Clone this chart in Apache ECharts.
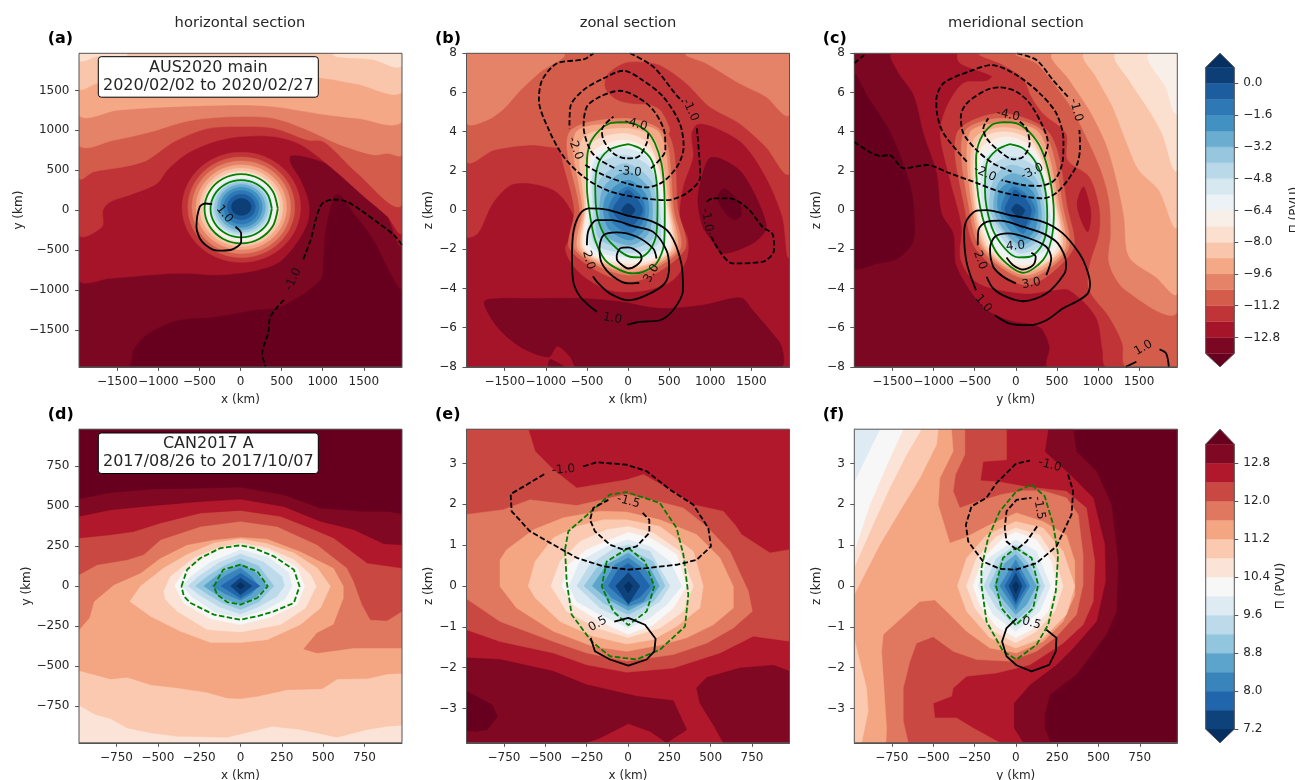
<!DOCTYPE html>
<html><head><meta charset="utf-8">
<script src="https://cdn.jsdelivr.net/npm/echarts@6/dist/echarts.min.js"></script>
<style>html,body{margin:0;padding:0;background:#fff}#c{width:1295px;height:780px}</style></head>
<body><div id="c"></div>
<script>
// ---------- colour levels ----------
const topLevels=['#67001f','#7c0722','#a61429','#c03438','#d45c4b','#e58368','#f4a886','#f9c6ac','#fce0cf','#f9efe9','#ecf2f5','#d7e8f1','#b9d9e9','#96c7df','#6bacd1','#4191c2','#2e78b5','#1c5da0','#0d3f76','#053061'];
const botLevels=['#67001f','#800823','#b2182b','#ca4842','#e0775f','#f4a582','#fac9b0','#fbe4d7','#f7f7f7','#deebf2','#bcdaea','#92c5de','#5da4cc','#3884bb','#2166ac','#0e427a','#053061'];
const topEdges=[-13.6,-12.8,-12,-11.2,-10.4,-9.6,-8.8,-8,-7.2,-6.4,-5.6,-4.8,-4,-3.2,-2.4,-1.6,-0.8,0,0.8];
const botEdges=[7.2,7.6,8,8.4,8.8,9.2,9.6,10,10.4,10.8,11.2,11.6,12,12.4,12.8,13.2];
const topTicks=[-12.8,-11.2,-9.6,-8,-6.4,-4.8,-3.2,-1.6,0];
const botTicks=[7.2,8,8.8,9.6,10.4,11.2,12,12.8];
const kmTicksWide=[-1500,-1000,-500,0,500,1000,1500];
const kmTicksNarrow=[-750,-500,-250,0,250,500,750];
const zTicksTop=[-8,-6,-4,-2,0,2,4,6,8];
const zTicksBot=[-3,-2,-1,0,1,2,3];

// ---------- panel (a) ----------
const aBands=[
[0,[[-1965,-1965],[1965,-1965],[1965,1965],[-1965,1965]]],
[1,[[-1965,-1965],[-1360,-1965],[-1300,-1750],[-1140,-1560],[-770,-1385],[-285,-1335],[200,-1250],[490,-1210],[970,-875],[1010,-590],[1030,-290],[1135,170],[1215,190],[1380,-40],[1540,-250],[1665,-460],[1825,-790],[1965,-980],[1965,1965],[-1965,1965]]],
[2,[[-1965,-875],[-1583,-855],[-1096,-813],[-690,-792],[-284,-813],[122,-771],[447,-667],[650,-459],[812,-167],[832,83],[731,375],[609,584],[609,680],[812,663],[1137,546],[1421,359],[1746,25],[1965,-433],[1965,1965],[-1965,1965]]],
[3,[[-1965,-313],[-1685,-208],[-1673,0],[-1583,104],[-1299,208],[-1015,334],[-893,500],[-650,709],[-325,855],[0,921],[406,921],[731,821],[1137,505],[1502,171],[1787,-79],[1965,-288],[1965,1965],[-1965,1965]]],
[4,[[-1965,396],[-1786,480],[-1421,542],[-1137,625],[-812,855],[-406,1022],[0,1047],[406,1026],[812,880],[1015,855],[1421,463],[1965,67],[1965,1965],[-1965,1965]]],
[5,[[-1965,813],[-1543,876],[-1096,980],[-690,1105],[-406,1150],[0,1172],[406,1151],[812,1005],[1218,817],[1624,692],[1787,713],[1965,692],[1965,1965],[-1965,1965]]],
[6,[[-1965,1188],[-1502,1251],[-893,1293],[0,1318],[406,1297],[974,1205],[1421,1151],[1965,1109],[1965,1965],[-1965,1965]]],
[7,[[-1965,1522],[-1750,1585],[-1299,1647],[0,1689],[954,1660],[1421,1580],[1965,1480],[1965,1965],[-1965,1965]]],
[8,[[-1965,1877],[-1750,1925],[-1380,1965],[-1965,1965]]],
[8,[[1137,1965],[1624,1885],[1965,1805],[1965,1965]]]
];
const aRings=[[3,10,35,720,690],[4,10,35,650,630],[5,10,35,600,580],[6,10,35,550,530],[7,10,35,505,490],[8,10,35,465,450],[9,10,35,440,425],[10,10,35,400,385],[11,10,35,378,365],[12,10,35,353,342],[13,10,35,325,315],[14,10,35,292,285],[15,10,35,255,250],[16,10,35,215,210],[17,10,40,170,160],[18,10,40,120,105]];
const aGreenOuter=[[454,17],[394,233],[231,392],[8,450],[-215,392],[-378,233],[-438,17],[-378,-200],[-215,-358],[8,-416],[231,-358],[394,-200],[454,17]];
const aGreenInner=[[381,17],[331,196],[195,327],[8,375],[-179,327],[-315,196],[-365,17],[-315,-162],[-179,-293],[8,-341],[195,-293],[331,-162],[381,17]];
const aPos1=[[-345,75],[-426,83],[-495,42],[-536,-208],[-467,-396],[-284,-509],[-122,-500],[8,-396],[8,-292],[-61,-208]];
const aNeg1a=[[1965,-438],[1868,-313],[1685,-167],[1462,0],[1299,104],[1137,133],[995,83],[914,-125],[853,-375],[751,-646]];
const aNeg1b=[[528,-1126],[365,-1334],[337,-1543],[264,-1793],[305,-1965]];
const aLabels=[[-195,-50,'1.0',-50],[641,-867,'-1.0',65]];

// ---------- panel (b) ----------
const bBands=[
[2,[[-1965,-8],[1965,-8],[1965,8],[-1965,8]]],
[1,[[-1749,-4.68],[-1548,-4.51],[-1225,-4.51],[-580,-4.51],[-97,-4.68],[387,-5.02],[911,-4.85],[1374,-4.48],[1515,-5.11],[1757,-6.3],[1870,-6.98],[1858,-8],[-621,-8],[-701,-7.49],[-862,-6.94],[-963,-7.49],[-1306,-6.98],[-1588,-5.96]]],
[1,[[-951,-7.63],[-842,-7.83],[-782,-8],[-963,-8]]],
[1,[[991,2.64],[1112,2.64],[1354,2.04],[1515,1.02],[1656,-.34],[1676,-1.02],[1515,-1.7],[1153,-2.21],[1032,-1.62],[911,-.85],[850,.51],[911,1.87]]],
[0,[[1173,1.1],[1354,.34],[1374,-.26],[1294,-.48],[1193,-.17],[1092,.6]]],
[3,[[-1965,-1.33],[-1830,-1.19],[-1648,.34],[-1427,1.28],[-1185,1.36],[-903,1.02],[-742,.34],[-621,-.85],[-762,-1.96],[-621,-3.06],[-339,-3.91],[-97,-4.17],[226,-4.09],[548,-3.57],[709,-2.55],[729,-1.53],[629,-.34],[669,1.19],[790,2.72],[770,3.91],[850,4.39],[1032,4.26],[1394,3.4],[1676,1.7],[1878,-.34],[1965,-2.38],[1965,8],[-1965,8]]],
[4,[[-1965,2.47],[-1628,3.06],[-1185,3.32],[-782,3.23],[-701,3.91],[488,3.91],[407,5.02],[266,5.36],[64,5.41],[-137,5.62],[-278,6.21],[-258,6.89],[-56,7.49],[145,7.57],[387,7.4],[709,6.47],[991,5.28],[1354,4.43],[1676,3.23],[1965,1.87],[1965,8],[-1965,8]]],
[5,[[-1965,4.43],[-1709,4.6],[-1507,5.19],[-1306,6.13],[-1064,7.06],[-782,8],[-1965,8]]],
[5,[[709,8],[951,7.49],[1354,6.47],[1676,5.79],[1965,4.85],[1965,8]]],
[4,[[-97,4.94],[488,3.91],[609,0],[689,-2.04],[24,-3.66],[-701,-2.04],[-653,0],[-802,3.91]]],
[5,[[-56,4.68],[427,3.91],[556,0],[629,-2.04],[24,-3.32],[-641,-2.04],[-588,0],[-721,3.91]]],
[6,[[-56,4.39],[387,3.91],[528,0],[588,-2.04],[24,-3.15],[-600,-2.04],[-552,0],[-641,3.91]]],
[7,[[-56,4.17],[326,3.6],[508,0],[548,-2.04],[24,-2.98],[-560,-2.04],[-528,0],[-560,3.6]]],
[8,[[-56,3.91],[266,3.3],[488,0],[516,-2.04],[24,-2.89],[-532,-2.04],[-512,0],[-459,3.3]]],
[9,[[-56,3.57],[286,2.89],[467,0],[488,-2.04],[24,-2.72],[-508,-2.04],[-500,0],[-439,2.89]]],
[10,[[-56,3.32],[266,2.7],[447,0],[447,-2.04],[24,-2.52],[-480,-2.04],[-480,0],[-419,2.7]]],
[11,[[-56,3.15],[240,2.6],[420,0],[415,-1.9],[24,-2.38],[-445,-1.9],[-460,0],[-400,2.6]]],
[12,[[-56,2.81],[280,2.1],[385,0],[370,-1.7],[24,-2.18],[-410,-1.7],[-425,0],[-400,2.1]]],
[13,[[-36,2.38],[280,1.5],[345,0],[300,-1.45],[24,-1.96],[-350,-1.45],[-390,0],[-350,1.5]]],
[14,[[-16,1.96],[240,1.2],[300,0],[240,-1.25],[24,-1.79],[-290,-1.25],[-345,0],[-290,1.2]]],
[15,[[0,1.53],[210,.85],[255,0],[195,-1],[24,-1.53],[-225,-1],[-300,0],[-245,.85]]],
[16,[[0,1.19],[160,.7],[206,0],[165,-.7],[24,-1.19],[-177,-.7],[-238,0],[-170,.7]]],
[17,[[0,1.02],[120,.5],[177,0],[120,-.5],[24,-.85],[-110,-.5],[-185,0],[-120,.5]]],
[18,[[4,.34],[85,0],[4,-.34],[-77,0]]]
];
const bGreenOuter=[[-97,4.49],[64,4.43],[226,4.03],[326,3.43],[407,2.38],[439,1.19],[447,-.34],[439,-1.7],[346,-2.72],[185,-3.15],[64,-3.23],[-97,-3.06],[-278,-2.55],[-399,-1.53],[-459,-.34],[-500,1.19],[-500,2.38],[-459,3.43],[-339,4.11],[-218,4.43],[-97,4.49]];
const bGreenInner=[[4,3.37],[145,3.15],[286,2.55],[346,1.53],[359,.17],[346,-1.19],[266,-2.04],[145,-2.41],[24,-2.38],[-137,-1.96],[-298,-1.19],[-379,-.17],[-399,1.19],[-359,2.38],[-238,3.06],[-97,3.28],[4,3.37]];
const bPos1=[[-379,-5.19],[-580,-4.43],[-669,-3.57],[-681,-2.38],[-661,-1.02],[-580,-.17],[-480,.09],[-258,.03],[24,-.31],[306,-.6],[508,-1.19],[649,-2.72],[669,-4.09],[548,-5.11],[387,-5.62],[145,-5.7],[-8,-5.84]];
const bPos2=[[-500,-1.79],[-480,-1.02],[-379,-.51],[-198,-.51],[64,-.82],[306,-1.11],[467,-2.04],[500,-2.89],[447,-3.74],[226,-4.34],[4,-4.6],[-218,-4.26],[-359,-3.74],[-427,-3.37]];
const bPos3=[[347,-2.47],[306,-1.96],[105,-1.36],[-137,-1.14],[-298,-1.28],[-347,-1.96],[-318,-2.72],[-177,-3.4],[4,-3.74],[137,-3.71]];
const bPos4=[[-137,-2.3],[-97,-1.96],[4,-1.9],[145,-2.21],[165,-2.47],[105,-2.81],[4,-2.98],[-97,-2.72],[-137,-2.47],[-137,-2.3]];
const bNeg1a=[[24,8],[306,7.32],[588,5.87],[669,5.53]];
const bNeg1b=[[838,4.17],[879,1.7],[709,.85],[467,.51],[64,.68],[-258,1.02],[-540,1.7],[-782,2.72],[-963,4.09],[-1084,5.62],[-1044,6.64],[-862,7.49],[-540,7.69],[-419,8]];
const bNeg2=[[-520,2.3],[-298,1.79],[-16,1.36],[226,1.16],[427,1.45],[609,2.3],[677,3.23],[629,4.43],[427,5.79],[145,6.72],[-56,7.11],[-298,6.72],[-540,6.13],[-701,5.28],[-713,4.17]];
const bNeg3=[[278,2.13],[455,3.06],[447,3.91],[306,5.11],[105,5.79],[-97,6.09],[-339,5.79],[-500,5.28],[-540,4.26],[-459,3.06],[-339,2.55],[-157,2.13]];
const bNeg4=[[246,3.91],[226,3.4],[125,2.72],[-16,2.64],[-177,2.89],[-298,3.57],[-318,4.09],[-177,4.77]];
const bNegR=[[959,.43],[1032,.6],[1233,.6],[1455,.09],[1636,-.85],[1765,-1.28],[1777,-2.04],[1636,-2.64],[1274,-2.72],[1133,-2.21],[991,-1.19]];
const bLabels=[[97,4.39,'-4.0',-15],[24,1.96,'-3.0',-5],[-641,3.15,'-2.0',-70],[758,5.11,'-1.0',-65],[959,-.51,'-1.0',-80],[-189,-5.53,'1.0',-10],[-480,-2.55,'2.0',-75],[286,-3.23,'3.0',60]];

// ---------- panel (c) ----------
const cBands=[
[1,[[-1965,-8],[1965,-8],[1965,8],[-1965,8]]],
[0,[[-1965,6.89],[-1805,5.79],[-1523,3.91],[-1282,1.19],[-1233,-.68],[-1261,-1.7],[-1443,-2.47],[-1685,-2.72],[-1965,-2.89]]],
[2,[[-1503,8],[-1435,7.06],[-1241,5.87],[-1120,3.91],[-959,1.87],[-899,-.17],[-758,-1.19],[-717,-2.89],[-395,-4.94],[-73,-5.62],[290,-5.96],[411,-6.98],[391,-8],[1965,-8],[1965,8]]],
[3,[[-697,8],[-677,7.49],[-294,6.84],[-355,6.59],[-637,6.47],[-838,5.28],[-919,3.91],[-798,1.53],[-657,-.85],[-677,-2.38],[-556,-3.4],[-355,-3.91],[129,-4.26],[451,-4.09],[653,-4.09],[975,-5.45],[1056,-7.15],[1096,-8],[1965,-8],[1965,8]]],
[2,[[822,1.19],[895,.34],[915,-.34],[875,-1.11],[794,-.51],[746,.34]]],
[4,[[-435,8],[-193,7.49],[89,6.72],[189,5.79],[330,4.94],[613,3.91],[633,2.55],[895,1.7],[1016,.17],[1016,-1.19],[895,-2.89],[895,-4.09],[1136,-5.45],[1298,-6.81],[1338,-8],[1965,-8],[1965,8]]],
[5,[[8,8],[250,7.49],[492,6.3],[693,5.11],[895,3.4],[1036,2.04],[1136,.51],[1157,-1.19],[1136,-2.72],[1338,-4.09],[1965,-5.19],[1965,8]]],
[6,[[451,8],[653,6.64],[895,5.11],[1096,3.4],[1217,1.7],[1318,-.34],[1378,-2.38],[1701,-3.4],[1965,-4.26],[1965,8]]],
[7,[[834,8],[975,6.81],[1177,5.28],[1338,3.57],[1499,2.04],[1741,1.02],[1965,-.85],[1965,8]]],
[8,[[1217,8],[1378,6.64],[1620,5.11],[1781,3.91],[1965,2.04],[1965,8]]],
[9,[[1620,8],[1822,6.3],[1965,4.94],[1965,8]]],
[4,[[-193,4.94],[411,3.91],[633,0],[693,-2.04],[129,-3.83],[-476,-2.04],[-617,0],[-717,3.91]]],
[5,[[-173,4.68],[351,3.91],[580,0],[633,-2.04],[129,-3.49],[-415,-2.04],[-564,0],[-637,3.91]]],
[6,[[-161,4.43],[290,3.91],[540,0],[592,-2.04],[121,-3.32],[-375,-2.04],[-524,0],[-564,3.91]]],
[7,[[-153,4.22],[270,3.57],[512,0],[552,-2.04],[109,-3.15],[-347,-2.04],[-496,0],[-516,3.57]]],
[8,[[-145,4],[218,3.4],[492,0],[524,-2.04],[109,-3.03],[-314,-2.04],[-476,0],[-476,3.4]]],
[9,[[-113,3.74],[230,3.06],[471,0],[484,-2.04],[89,-2.81],[-274,-2.04],[-455,0],[-435,3.06]]],
[10,[[-93,3.49],[250,2.72],[443,0],[443,-2.04],[89,-2.64],[-214,-2.04],[-427,0],[-415,2.72]]],
[11,[[-73,3.23],[250,2.55],[411,0],[391,-1.87],[89,-2.47],[-153,-1.87],[-395,0],[-387,2.55]]],
[12,[[-52,2.72],[270,2.04],[379,0],[351,-1.62],[69,-2.21],[-133,-1.62],[-355,0],[-334,2.04]]],
[13,[[-52,2.3],[230,1.7],[351,0],[310,-1.36],[69,-2.01],[-113,-1.36],[-314,0],[-254,1.7]]],
[14,[[-32,1.87],[210,1.36],[310,0],[270,-1.19],[69,-1.79],[-113,-1.19],[-266,0],[-214,1.36]]],
[15,[[-32,1.45],[189,1.02],[270,0],[230,-1.02],[89,-1.53],[-73,-1.02],[-214,0],[-193,1.02]]],
[16,[[-24,1.19],[150,.7],[238,0],[170,-.7],[89,-1.19],[-20,-.8],[-173,0],[-130,.7]]],
[17,[[-12,1.02],[130,.5],[189,0],[150,-.55],[89,-.94],[-30,-.55],[-133,0],[-90,.5]]],
[18,[[8,.31],[109,0],[48,-.34],[-52,0]]]
];
const cGreenOuter=[[-153,4.49],[8,4.43],[169,3.96],[310,3.11],[411,1.7],[463,-.17],[431,-1.53],[330,-2.55],[89,-3.2],[-113,-2.72],[-274,-1.87],[-435,.17],[-484,2.55],[-435,3.57],[-294,4.34],[-153,4.49]];
const cGreenInner=[[-73,3.37],[89,3.15],[250,2.38],[351,1.19],[383,-.34],[330,-1.7],[169,-2.38],[28,-2.41],[-133,-1.96],[-294,-.85],[-375,1.02],[-355,2.38],[-234,3.06],[-73,3.37]];
const cPos1=[[-484,-4.09],[-596,-2.72],[-629,-1.19],[-596,-.51],[-476,-.03],[-355,0],[-73,-.26],[330,-.6],[572,-1.19],[774,-2.21],[854,-2.89],[903,-3.74],[874,-4.26],[733,-4.68],[572,-5.02],[371,-5.62],[169,-5.87],[-73,-5.79],[-254,-5.36]];
const cPos2=[[-463,-1.79],[-455,-1.02],[-355,-.6],[-193,-.54],[89,-.85],[330,-1.19],[512,-1.7],[613,-2.72],[592,-3.23],[371,-4.26],[89,-4.65],[-113,-4.43],[-274,-4],[-355,-3.4]];
const cPos3=[[0,-3.74],[-153,-3.4],[-274,-2.89],[-314,-1.96],[-254,-1.36],[-93,-1.19],[169,-1.45],[371,-1.87],[431,-2.47],[371,-3.32]];
const cPos4=[[-113,-2.42],[-32,-2.81],[89,-3.03],[210,-2.81],[242,-2.38],[189,-2.18]];
const cPosCornerA=[[1338,-8],[1467,-7.74]];
const cPosCornerB=[[1749,-7.11],[1830,-7.32],[1862,-8]];
const cNeg1a=[[-1965,3.49],[-1644,2.76],[-1543,2.81],[-1362,2.13],[-1080,2.3],[-798,1.87],[-516,1.45],[-193,.94],[129,.68],[330,.6],[512,.94],[733,2.21],[782,3.23],[774,4.09]];
const cNeg1b=[[633,5.79],[451,6.64],[250,7.66],[8,8]];
const cNegCorner=[[-1965,7.49],[-1846,7.91]];
const cNeg2=[[-596,2.47],[-879,3.91],[-959,4.94],[-967,5.62],[-879,6.47],[-516,7.15],[-294,7.4],[8,6.89],[290,5.96],[492,4.94],[580,3.57],[572,2.55],[471,1.53],[290,1.24],[89,1.28],[-173,1.53]];
const cNeg3=[[351,2.72],[391,3.4],[330,4.26],[169,5.45],[8,6.04],[-193,6.26],[-355,6.13],[-596,5.45],[-669,4.77],[-637,3.91],[-476,3.06],[-274,2.38],[-52,1.96]];
const cNeg4=[[48,4.51],[129,4.17],[169,3.4],[89,2.72],[-32,2.59],[-193,2.98],[-355,3.66],[-395,4.17],[-334,4.68]];
const cLabels=[[-93,4.85,'-4.0',-12],[201,1.96,'-3.0',25],[-375,1.87,'-2.0',-25],[733,5.11,'-1.0',-75],[-4,-1.84,'4.0',5],[189,-3.74,'3.0',10],[-435,-2.55,'2.0',-70],[-395,-4.77,'1.0',-50],[1552,-7.03,'1.0',30]];

// ---------- panel (d) ----------
const dBands=[
[7,[[-977,-979],[977,-979],[977,979],[-977,979]]],
[6,[[-977,-745],[-877,-803],[-786,-828],[-685,-886],[-544,-917],[-383,-938],[-81,-944],[0,-924],[192,-876],[363,-896],[585,-944],[766,-896],[887,-876],[977,-869],[977,979],[-977,979]]],
[5,[[-977,-528],[-786,-580],[-685,-570],[-544,-616],[-383,-636],[-202,-664],[-81,-699],[0,-703],[101,-689],[282,-647],[494,-641],[585,-580],[766,-578],[887,-549],[977,-545],[977,979],[-977,979]]],
[4,[[-977,-273],[-915,-200],[-887,-96],[-766,8],[-605,81],[-484,175],[-323,258],[-161,289],[0,306],[161,295],[363,216],[564,112],[625,-2],[625,-75],[564,-241],[464,-293],[383,-393],[464,-418],[685,-387],[977,-387],[977,979],[-977,979]]],
[3,[[-977,71],[-867,133],[-685,164],[-585,196],[-484,289],[-242,372],[0,404],[222,372],[464,258],[645,112],[685,29],[736,-116],[786,-210],[887,-216],[977,-158],[977,979],[-977,979]]],
[2,[[-977,300],[-786,320],[-645,341],[-484,393],[-242,456],[0,472],[242,435],[423,362],[564,300],[766,144],[977,112],[977,979],[-977,979]]],
[1,[[-977,435],[-786,476],[-585,497],[-242,528],[0,543],[262,497],[484,404],[685,352],[867,264],[977,258],[977,979],[-977,979]]],
[0,[[-977,545],[-786,584],[-544,605],[-242,612],[0,618],[262,570],[484,487],[746,466],[887,466],[977,451],[977,979],[-977,979]]],
[6,[[-669,-96],[-605,-2],[-464,112],[-323,196],[-161,268],[0,293],[161,264],[323,206],[464,112],[544,-2],[484,-137],[363,-241],[161,-335],[0,-352],[-181,-352],[-363,-283],[-544,-189]]],
[7,[[-464,-33],[-423,60],[-282,175],[-141,237],[0,268],[161,237],[323,164],[423,71],[458,-2],[393,-137],[242,-241],[0,-287],[-202,-272],[-383,-158],[-454,-85]]],
[8,[[-397,2],[-343,91],[-161,216],[0,254],[181,216],[343,112],[387,-2],[343,-116],[181,-195],[0,-241],[-181,-204],[-343,-106]]],
[9,[[-353,0],[-300,60],[-180,150],[0,227],[170,180],[290,85],[312,0],[270,-80],[150,-150],[0,-195],[-150,-165],[-290,-70]]],
[10,[[-316,0],[-260,55],[-130,145],[0,200],[140,150],[250,60],[266,0],[220,-65],[110,-130],[0,-175],[-130,-130],[-250,-55]]],
[11,[[-272,0],[-200,60],[-100,125],[0,170],[110,125],[202,0],[110,-100],[0,-147],[-110,-105],[-200,-50]]],
[12,[[-222,0],[-130,75],[0,139],[90,85],[161,0],[90,-70],[0,-116],[-120,-70]]],
[13,[[-175,0],[-90,65],[0,112],[65,60],[111,0],[65,-50],[0,-89],[-90,-50]]],
[14,[[-118,0],[0,80],[118,0],[0,-75]]],
[15,[[-60,0],[0,50],[70,0],[0,-55]]],
[16,[[-24,0],[0,22],[26,0],[0,-19]]]
];
const dGreenOuter=[[-357,-2],[-323,102],[-242,175],[-121,237],[0,254],[81,237],[202,185],[323,102],[357,-2],[323,-106],[202,-158],[101,-189],[0,-210],[-161,-179],[-302,-106],[-343,-64],[-357,-2]];
const dGreenInner=[[-161,-2],[-105,102],[0,133],[101,91],[165,-2],[101,-75],[0,-116],[-81,-100],[-141,-54],[-161,-2]];

// ---------- panel (e) ----------
const eBands=[
[2,[[-977,-3.84],[977,-3.84],[977,3.84],[-977,3.84]]],
[1,[[-977,-1.76],[-774,-1.8],[-452,-2.09],[-250,-2.42],[52,-2.7],[274,-2.81],[355,-3.52],[234,-3.84],[133,-3.56],[2,-3.37],[-169,-3.72],[-250,-3.84],[-977,-3.84]]],
[1,[[415,-2.5],[476,-2.24],[677,-2.01],[879,-1.94],[977,-2.09],[977,-3.84],[577,-3.84],[516,-3.4],[435,-2.87]]],
[0,[[-977,-2.58],[-823,-2.91],[-789,-3.19],[-853,-3.52],[-915,-3.56],[-977,-3.54]]],
[3,[[-603,3.84],[-562,3.3],[-451,2.85],[-310,2.4],[-8,2.6],[93,2.73],[274,2.32],[395,1.99],[576,1.83],[647,1.5],[687,1.26],[859,.81],[977,.89],[977,-1.35],[758,-1.23],[556,-1.64],[274,-2.01],[-8,-2.11],[-250,-1.93],[-452,-1.64],[-774,-1.36],[-977,-1.07],[-977,3.84]]],
[4,[[-977,1.75],[-754,1.87],[-593,2.11],[-310,1.97],[-8,2.25],[193,2.06],[335,1.91],[476,1.46],[617,.85],[728,-.13],[752,-.62],[637,-1.03],[476,-1.4],[274,-1.68],[-8,-1.84],[-250,-1.64],[-452,-1.36],[-774,-.87],[-977,-.31]]],
[5,[[-774,.64],[-734,.89],[-572,1.38],[-391,1.67],[-169,1.83],[-8,1.81],[193,1.62],[415,1.26],[556,.69],[637,-.01],[637,-.54],[516,-.95],[355,-1.27],[193,-1.45],[-8,-1.6],[-210,-1.48],[-452,-1.11],[-674,-.54],[-774,-.01]]],
[6,[[-603,0],[-562,.6],[-451,1.18],[-310,1.46],[-149,1.62],[-8,1.62],[193,1.46],[395,.85],[455,0],[435,-.54],[294,-.99],[153,-1.31],[-8,-1.42],[-210,-1.23],[-411,-.87],[-562,-.29]]],
[7,[[-466,0],[-411,.6],[-290,1.09],[-129,1.38],[2,1.46],[153,1.3],[314,.85],[395,0],[335,-.62],[193,-1.03],[2,-1.26],[-189,-1.03],[-371,-.62]]],
[8,[[-401,0],[-361,.52],[-250,.89],[-109,1.13],[2,1.31],[133,1.18],[294,.77],[355,0],[274,-.54],[153,-.95],[2,-1.18],[-169,-.87],[-331,-.46]]],
[9,[[-357,0],[-290,.6],[-129,.97],[2,1.13],[133,.97],[254,.6],[325,0],[234,-.46],[133,-.78],[2,-1.03],[-169,-.7],[-310,-.38]]],
[10,[[-310,0],[-230,.52],[-89,.91],[2,1.01],[133,.85],[254,0],[193,-.38],[2,-.87],[-169,-.54]]],
[11,[[-266,0],[-189,.44],[2,.89],[153,.6],[224,0],[153,-.38],[2,-.7],[-149,-.42]]],
[12,[[-216,0],[-129,.52],[2,.81],[133,.44],[190,0],[133,-.33],[2,-.6],[-119,-.33]]],
[13,[[-159,0],[-79,.52],[2,.69],[113,.36],[157,0],[93,-.38],[2,-.5],[-99,-.29]]],
[14,[[-119,0],[-60,.4],[2,.56],[70,.35],[133,0],[70,-.28],[2,-.42],[-60,-.22]]],
[15,[[-75,0],[2,.33],[73,0],[2,-.45]]],
[16,[[-24,0],[2,.11],[28,0],[2,-.17]]]
];
const eGreenOuter=[[-381,.89],[-361,1.34],[-210,1.87],[-109,2.24],[-8,2.3],[193,2.03],[294,1.42],[335,.77],[365,-.21],[345,-.99],[193,-1.56],[52,-1.8],[-109,-1.72],[-220,-1.36],[-341,-.7],[-371,.11],[-381,.89]];
const eGreenInner=[[2,.93],[103,.6],[159,-.01],[113,-.62],[2,-.96],[-89,-.62],[-159,-.01],[-129,.6],[2,.93]];
const ePos=[[-83,-.87],[2,-.78],[103,-.95],[167,-1.29],[159,-1.6],[113,-1.8],[2,-1.95],[-109,-1.8],[-200,-1.6],[-226,-1.27]];
const eNeg1=[[-270,2.93],[-189,3.03],[-8,2.97],[113,2.81],[254,2.36],[395,1.99],[486,1.42],[502,.97],[415,.64],[294,.52],[113,.44],[2,.4],[-149,.48],[-310,.69],[-451,1.01],[-593,1.34],[-704,1.83],[-710,2.25],[-613,2.48],[-502,2.75]];
const eNeg15=[[89,1.79],[129,1.62],[129,1.3],[52,.97],[-28,.89],[-109,1.01],[-200,1.34],[-230,1.62],[-210,1.91],[-119,2.11]];
const eLabels=[[-391,2.85,'-1.0',5],[2,2.07,'-1.5',-15],[-183,-.93,'0.5',30]];

// ---------- panel (f) ----------
const fBands=[
[0,[[-977,-3.84],[977,-3.84],[977,3.84],[-977,3.84]]],
[1,[[347,3.84],[367,3.29],[488,2.81],[579,1.99],[619,.6],[609,-.62],[548,-1.19],[367,-2.17],[206,-2.66],[175,-3.15],[175,-3.48],[210,-3.84],[-977,-3.84],[-977,3.84]]],
[2,[[196,3.84],[175,3.29],[327,2.73],[468,2.16],[538,1.01],[542,.11],[488,-.87],[347,-1.52],[246,-1.93],[85,-2.42],[-12,-2.87],[-12,-3.48],[44,-3.84],[-977,-3.84],[-977,3.84]]],
[3,[[-56,3.84],[-56,3.09],[-198,3.05],[-214,2.58],[-97,2.55],[44,2.44],[306,2.32],[427,1.91],[478,.6],[468,-.38],[407,-.95],[286,-1.4],[85,-1.93],[-117,-2.13],[-298,-2.21],[-379,-2.5],[-389,-2.7],[-500,-2.87],[-490,-3.23],[-359,-3.23],[-258,-3.48],[-97,-3.84],[-977,-3.84],[-977,3.84]]],
[4,[[-308,3.84],[-308,3.22],[-365,2.73],[-379,2.32],[-339,1.91],[-228,2.07],[-87,2.24],[44,2.33],[165,2.33],[306,2.16],[377,1.75],[407,.77],[407,.03],[367,-.7],[246,-1.24],[125,-1.6],[-36,-1.84],[-238,-1.8],[-379,-1.6],[-500,-1.24],[-601,-1.4],[-641,-1.85],[-681,-2.5],[-681,-3.3],[-651,-3.84],[-977,-3.84],[-977,3.84]]],
[5,[[-389,3.84],[-379,3.3],[-460,2.64],[-470,1.99],[-399,1.05],[-308,1.18],[-157,1.5],[4,1.79],[165,1.58],[306,1.25],[357,.6],[357,-.22],[286,-.87],[165,-1.36],[4,-1.64],[-157,-1.52],[-298,-1.11],[-399,-.7],[-490,-.34],[-581,-.38],[-802,-1.19],[-812,-1.6],[-782,-3.48],[-786,-3.84],[-977,-3.84],[-977,3.84]]],
[6,[[-469,3.84],[-480,3.46],[-581,2.64],[-702,1.83],[-823,1.01],[-977,-.21],[-977,3.84]]],
[6,[[-977,-1.31],[-903,-2.5],[-893,-3.07],[-933,-3.84],[-977,-3.84]]],
[7,[[-571,3.84],[-661,3.22],[-762,2.41],[-863,1.51],[-977,.46],[-977,3.84]]],
[8,[[-681,3.84],[-762,3.13],[-883,1.99],[-977,.85],[-977,3.84]]],
[9,[[-823,3.84],[-977,2.56],[-977,3.84]]],
[6,[[-353,0],[-298,.68],[-177,1.25],[0,1.58],[165,1.42],[286,.85],[357,0],[306,-.7],[165,-1.27],[0,-1.52],[-157,-1.27],[-298,-.62]]],
[7,[[-298,0],[-238,.68],[-117,1.21],[0,1.42],[145,1.25],[236,.68],[286,0],[236,-.62],[125,-1.11],[0,-1.39],[-137,-1.11],[-248,-.54]]],
[8,[[-258,0],[-198,.68],[-77,1.17],[0,1.32],[125,1.13],[216,.6],[242,0],[196,-.62],[95,-1.07],[0,-1.27],[-117,-.99],[-218,-.46]]],
[9,[[-228,0],[-167,.68],[0,1.13],[125,.85],[210,0],[145,-.62],[0,-1.11],[-137,-.7]]],
[10,[[-194,0],[-117,.68],[0,1.01],[105,.68],[175,0],[105,-.62],[0,-.99],[-117,-.54]]],
[11,[[-161,0],[-87,.64],[0,.89],[85,.52],[149,0],[85,-.54],[0,-.85],[-87,-.46]]],
[12,[[-131,0],[-67,.56],[0,.77],[65,.44],[125,0],[65,-.46],[0,-.7],[-77,-.33]]],
[13,[[-97,0],[0,.64],[85,0],[0,-.58]]],
[14,[[-67,0],[0,.48],[65,0],[0,-.46]]],
[15,[[-42,0],[0,.31],[38,0],[0,-.38]]],
[16,[[-20,0],[0,.11],[20,0],[0,-.17]]]
];
const fGreenOuter=[[-208,.44],[-167,1.18],[-97,1.83],[4,2.32],[95,2.48],[175,2.2],[226,1.5],[256,.77],[242,-.13],[196,-.95],[125,-1.44],[4,-1.8],[-77,-1.6],[-177,-.87],[-208,.03],[-208,.44]];
const fGreenInner=[[0,.93],[95,.69],[135,.03],[105,-.54],[0,-.96],[-87,-.54],[-121,.03],[-77,.69],[0,.93]];
const fPos=[[185,-1.07],[246,-1.27],[242,-1.6],[202,-1.93],[95,-2.09],[4,-1.94],[-56,-1.72],[-83,-1.36],[-56,-1.03],[4,-.8]];
const fNeg1=[[316,2.73],[347,2.32],[337,1.75],[246,.97],[125,.56],[0,.4],[-97,.42],[-198,.6],[-288,1.09],[-302,1.5],[-268,1.95],[-177,2.16],[-117,2.52],[0,2.99],[85,3.07]];
const fNeg15=[[129,1.46],[65,1.09],[4,.89],[-56,1.09],[-67,1.42],[-56,1.83],[4,2.11],[95,2.16]];
const fLabels=[[206,2.96,'-1.0',-15],[141,1.91,'-1.5',-80],[95,-.91,'0.5',-15]];

// ---------- layout ----------
const FONT='"DejaVu Sans"';
const INK='#262626', EDGE='#555555';
const W=323, HT=313.6;
const COLS=[79,466.5,854.3], ROWS=[53.3,429.2];
const num=v=>String(v).replace('-','\u2212');
const grids=[],xAxes=[],yAxes=[],series=[];

function addPanel(o){
  const g=grids.length;
  grids.push({left:o.left,top:o.top,width:W,height:HT,containLabel:false,outerBoundsMode:'none'});
  const ax=(ticks,min,max,name,gap,pos,margin)=>({type:'value',min,max,name,nameLocation:'middle',nameGap:gap,position:pos,
    nameTextStyle:{fontFamily:FONT,fontSize:12,color:INK},
    axisLine:{show:true,onZero:false,lineStyle:{color:EDGE,width:1}},
    axisTick:{show:true,length:4,lineStyle:{color:EDGE},customValues:ticks},
    axisLabel:{show:true,margin,fontFamily:FONT,fontSize:12,color:INK,customValues:ticks,formatter:num},
    splitLine:{show:false}});
  xAxes.push(Object.assign(ax(o.xTicks,-o.xMax,o.xMax,o.xName,27,'bottom',9),{gridIndex:g}));
  yAxes.push(Object.assign(ax(o.yTicks,-o.yMax,o.yMax,o.yName,o.yGap,'left',9.5),{gridIndex:g,nameRotate:90}));
  const pal=o.pal, sm=o.smooth;
  const isCorner=p=>Math.abs(p[0])>=o.xMax&&Math.abs(p[1])>=o.yMax;
  series.push({type:'custom',coordinateSystem:'cartesian2d',xAxisIndex:g,yAxisIndex:g,clip:true,silent:true,animation:false,z:2,
    data:o.bands.map((b,i)=>[i]),encode:{x:-1,y:-1},
    renderItem:(params,api)=>{
      const b=o.bands[params.dataIndex];
      const pts=b[1].map(p=>api.coord(isCorner(p)?[p[0]*1.6,p[1]*1.6]:p));
      return {type:'polygon',shape:{points:pts,smooth:sm},style:{fill:pal[b[0]],stroke:pal[b[0]],lineWidth:.5}};
    }});
  if(o.rings) series.push({type:'custom',coordinateSystem:'cartesian2d',xAxisIndex:g,yAxisIndex:g,clip:true,silent:true,animation:false,z:3,
    data:o.rings.map((r,i)=>[i]),encode:{x:-1,y:-1},
    renderItem:(params,api)=>{
      const r=o.rings[params.dataIndex];
      const c=api.coord([r[1],r[2]]), s=api.size([r[3],r[4]]);
      return {type:'ellipse',shape:{cx:c[0],cy:c[1],rx:s[0],ry:s[1]},style:{fill:pal[r[0]],stroke:pal[r[0]],lineWidth:.5}};
    }});
  o.lines.forEach(l=>series.push({type:'line',xAxisIndex:g,yAxisIndex:g,data:l[0],smooth:sm,showSymbol:false,symbol:'none',silent:true,animation:false,z:4,
    lineStyle:{color:l[1],width:1.8,type:l[2]?[5.5,2.4]:'solid'}}));
  if(o.labels) series.push({type:'custom',coordinateSystem:'cartesian2d',xAxisIndex:g,yAxisIndex:g,clip:false,silent:true,animation:false,z:5,
    data:o.labels.map((r,i)=>[i]),encode:{x:-1,y:-1},
    renderItem:(params,api)=>{
      const r=o.labels[params.dataIndex], c=api.coord([r[0],r[1]]);
      return {type:'text',x:c[0],y:c[1],rotation:r[3]*Math.PI/180,
        style:{text:r[2],font:'12px '+FONT,fill:'#111',align:'center',verticalAlign:'middle',textAlign:'center',textVerticalAlign:'middle'}};
    }});
}
const G='#008000',K='#000000';
addPanel({left:COLS[0],top:ROWS[0],xMax:1965,yMax:1965,xTicks:kmTicksWide,yTicks:kmTicksWide,xName:'x (km)',yName:'y (km)',yGap:53,pal:topLevels,smooth:.3,bands:aBands,rings:aRings,labels:aLabels,
  lines:[[aGreenOuter,G],[aGreenInner,G],[aPos1,K],[aNeg1a,K,1],[aNeg1b,K,1]]});
addPanel({left:COLS[1],top:ROWS[0],xMax:1965,yMax:8,xTicks:kmTicksWide,yTicks:zTicksTop,xName:'x (km)',yName:'z (km)',yGap:32,pal:topLevels,smooth:.3,bands:bBands,labels:bLabels,
  lines:[[bGreenOuter,G],[bGreenInner,G],[bPos1,K],[bPos2,K],[bPos3,K],[bPos4,K],[bNeg1a,K,1],[bNeg1b,K,1],[bNeg2,K,1],[bNeg3,K,1],[bNeg4,K,1],[bNegR,K,1]]});
addPanel({left:COLS[2],top:ROWS[0],xMax:1965,yMax:8,xTicks:kmTicksWide,yTicks:zTicksTop,xName:'y (km)',yName:'z (km)',yGap:30,pal:topLevels,smooth:.3,bands:cBands,labels:cLabels,
  lines:[[cGreenOuter,G],[cGreenInner,G],[cPos1,K],[cPos2,K],[cPos3,K],[cPos4,K],[cPosCornerA,K],[cPosCornerB,K],[cNeg1a,K,1],[cNeg1b,K,1],[cNegCorner,K,1],[cNeg2,K,1],[cNeg3,K,1],[cNeg4,K,1]]});
addPanel({left:COLS[0],top:ROWS[1],xMax:977,yMax:979,xTicks:kmTicksNarrow,yTicks:kmTicksNarrow,xName:'x (km)',yName:'y (km)',yGap:46,pal:botLevels,smooth:0,bands:dBands,
  lines:[[dGreenOuter,G,1],[dGreenInner,G,1]]});
addPanel({left:COLS[1],top:ROWS[1],xMax:977,yMax:3.84,xTicks:kmTicksNarrow,yTicks:zTicksBot,xName:'x (km)',yName:'z (km)',yGap:32,pal:botLevels,smooth:0,bands:eBands,labels:eLabels,
  lines:[[eGreenOuter,G,1],[eGreenInner,G,1],[ePos,K],[eNeg1,K,1],[eNeg15,K,1]]});
addPanel({left:COLS[2],top:ROWS[1],xMax:977,yMax:3.84,xTicks:kmTicksNarrow,yTicks:zTicksBot,xName:'y (km)',yName:'z (km)',yGap:30,pal:botLevels,smooth:0,bands:fBands,labels:fLabels,
  lines:[[fGreenOuter,G,1],[fGreenInner,G,1],[fPos,K],[fNeg1,K,1],[fNeg15,K,1]]});

// ---------- colour bars ----------
function addBar(o){
  const g=grids.length;
  grids.push({left:1205.7,top:o.top,width:28.6,height:HT,outerBoundsMode:'none'});
  xAxes.push({type:'value',gridIndex:g,min:0,max:1,show:false});
  yAxes.push({type:'value',gridIndex:g,min:o.min,max:o.max,position:'right',name:'\u03a0 (PVU)',nameLocation:'middle',nameGap:o.gap,nameRotate:90,
    nameTextStyle:{fontFamily:FONT,fontSize:12,color:INK},
    axisLine:{show:false,onZero:false},axisTick:{show:true,length:4,lineStyle:{color:EDGE},customValues:o.ticks},
    axisLabel:{show:true,margin:9,fontFamily:FONT,fontSize:12,color:INK,customValues:o.ticks,formatter:v=>(+v).toFixed(1).replace('-','\u2212')},splitLine:{show:false}});
  const e=o.edges, polys=[];
  polys.push([o.lowColor,[[0,e[0]],[.5,o.min],[1,e[0]]]]);
  for(let i=0;i<e.length-1;i++) polys.push([o.bandColors[i],[[0,e[i]],[1,e[i]],[1,e[i+1]],[0,e[i+1]]]]);
  polys.push([o.highColor,[[0,e[e.length-1]],[.5,o.max],[1,e[e.length-1]]]]);
  const outline=[[0,e[0]],[.5,o.min],[1,e[0]],[1,e[e.length-1]],[.5,o.max],[0,e[e.length-1]]];
  series.push({type:'custom',coordinateSystem:'cartesian2d',xAxisIndex:g,yAxisIndex:g,clip:false,silent:true,animation:false,z:2,
    data:polys.map((p,i)=>[i]).concat([[polys.length]]),encode:{x:-1,y:-1},
    renderItem:(params,api)=>{
      const p=polys[params.dataIndex];
      if(!p) return {type:'polygon',z2:10,shape:{points:outline.map(q=>api.coord(q))},style:{fill:'none',stroke:EDGE,lineWidth:1}};
      return {type:'polygon',shape:{points:p[1].map(q=>api.coord(q))},style:{fill:p[0],stroke:p[0],lineWidth:.3}};
    }});
}
addBar({top:ROWS[0],min:-14.28,max:1.512,edges:topEdges,ticks:topTicks,gap:55,lowColor:topLevels[0],highColor:topLevels[19],bandColors:topLevels.slice(1,19)});
addBar({top:ROWS[1],min:6.911,max:13.517,edges:botEdges,ticks:botTicks,gap:41,lowColor:botLevels[16],highColor:botLevels[0],bandColors:botLevels.slice(1,16).reverse()});

// ---------- frames, titles, boxes ----------
const gfx=[];
const txt=(x,y,s,size,weight,al)=>gfx.push({type:'text',x,y,z:100,silent:true,style:{text:s,font:(weight||'normal')+' '+size+'px '+FONT,fill:weight?'#000':INK,align:al||'center',verticalAlign:'middle',textAlign:al||'center',textVerticalAlign:'middle'}});
ROWS.forEach(t=>COLS.forEach(l=>gfx.push({type:'rect',z:90,silent:true,shape:{x:l,y:t,width:W,height:HT},style:{fill:'none',stroke:EDGE,lineWidth:1}})));
txt(240,23.5,'horizontal section',14.7);txt(628,23.5,'zonal section',14.7);txt(1016,23.5,'meridional section',14.7);
['(a)','(b)','(c)','(d)','(e)','(f)'].forEach((s,i)=>txt([47.7,435,822.7][i%3],i<3?38.5:415,s,16,'bold','left'));
[[56.7,'AUS2020 main','2020/02/02 to 2020/02/27'],[433,'CAN2017 A','2017/08/26 to 2017/10/07']].forEach(b=>{
  gfx.push({type:'rect',z:95,silent:true,shape:{x:98.3,y:b[0],width:220,height:40.5,r:3},style:{fill:'#fff',stroke:'#000',lineWidth:1}});
  txt(208.3,b[0]+11,b[1],16);txt(208.3,b[0]+29.3,b[2],16);
});

const chart=echarts.init(document.getElementById('c'),null,{renderer:'canvas'});
chart.setOption({animation:false,backgroundColor:'#fff',grid:grids,xAxis:xAxes,yAxis:yAxes,series,graphic:{elements:gfx}});
</script></body></html>
